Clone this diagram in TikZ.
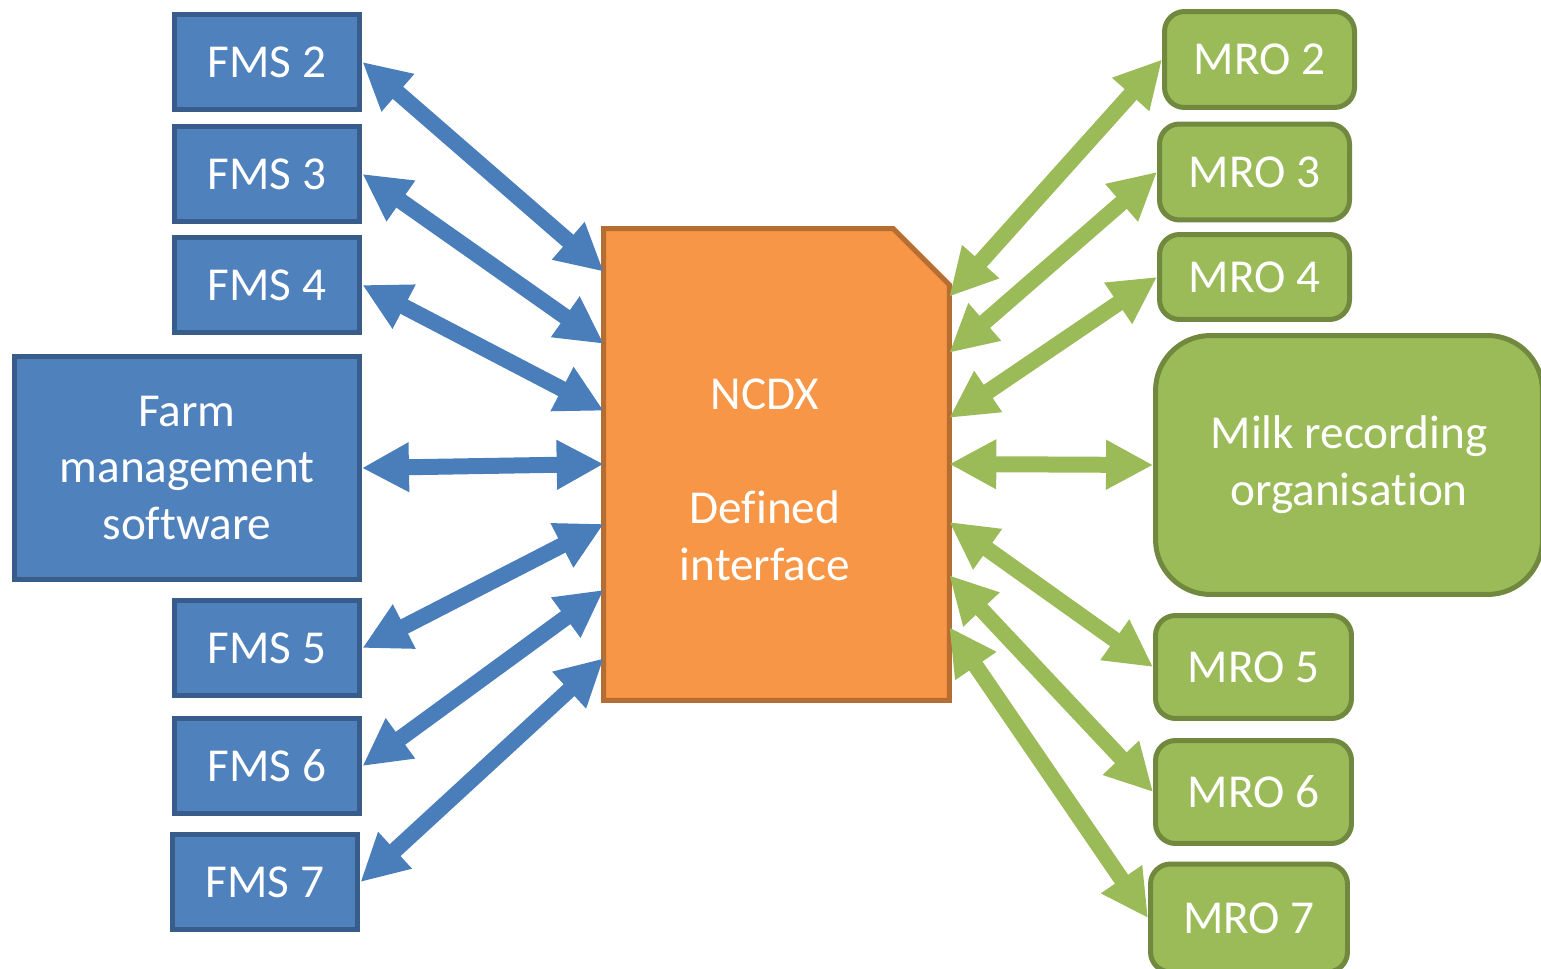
\documentclass[tikz,border=0pt]{standalone}
\usepackage{fontspec}
\setmainfont{Carlito}[Ligatures={NoCommon,NoContextual}]
\usetikzlibrary{arrows.meta,calc}
\definecolor{fmsfill}{HTML}{4F81BD}
\definecolor{fmsline}{HTML}{385D8A}
\definecolor{fmsarrowc}{HTML}{4A7EBB}
\definecolor{ncdxfill}{HTML}{F79646}
\definecolor{ncdxline}{HTML}{B66D31}
\definecolor{mrofill}{HTML}{9BBB59}
\definecolor{mroline}{HTML}{71893F}
\tikzset{
  box/.style={line width=1mm,text=white,align=center,
    font=\fontsize{26.9pt}{32.4pt}\selectfont},
  fms/.style={box,draw=fmsline,fill=fmsfill,minimum width=3.72cm,minimum height=1.92cm},
  mro/.style={box,draw=mroline,fill=mrofill,rounded corners=0.4cm,minimum width=3.8cm,minimum height=1.92cm},
  dblarrow/.style={line width=0.32cm,>={Triangle[width=9.4mm,length=9.4mm]},<->},
  fmsarrow/.style={dblarrow,draw=fmsarrowc},
  mroarrow/.style={dblarrow,draw=mrofill}
}
\begin{document}
\begin{tikzpicture}[x=0.02cm,y=-0.02cm]
    \useasboundingbox(0,0)rectangle(1541,969);
    \clip(0,0)rectangle(1541,969);
    % left side
    \node[fms](fms2)at(267,62){FMS 2};
    \node[fms](fms3)at(267,174){FMS 3};
    \node[fms](fms4)at(267,285){FMS 4};
    \node[fms,minimum width=6.9cm,minimum height=4.46cm](farm)at(187,468){Farm\\management\\software};
    \node[fms](fms5)at(267,648){FMS 5};
    \node[fms](fms6)at(267,766){FMS 6};
    \node[fms](fms7)at(265,882){FMS 7};
    % centre
    \node[minimum width=6.9cm,minimum height=9.42cm,inner sep=0pt](ncdx)at(776.5,464.5){};
    \draw[line width=1mm,draw=ncdxline,fill=ncdxfill](ncdx.south west)|-([xshift=-1.12cm]ncdx.north east)--([yshift=-1.12cm]ncdx.north east)--(ncdx.south east)--cycle;
    \node[box](ncdxtext)at(765,480){NCDX\\[32.4pt]Defined\\interface};
    % right side
    \node[mro](mro2)at(1259.5,59.5){MRO 2};
    \node[mro](mro3)at(1254.5,172){MRO 3};
    \node[mro,minimum height=1.7cm](mro4)at(1254.5,277){MRO 4};
    \node[mro,rounded corners=1.1cm,minimum width=7.74cm,minimum height=5.18cm](milk)at(1349,465){Milk recording\\organisation};
    \node[mro,minimum width=3.92cm,minimum height=2.06cm](mro5)at(1253.5,667){MRO 5};
    \node[mro,minimum width=3.92cm,minimum height=2.06cm](mro6)at(1253.5,792){MRO 6};
    \node[mro,minimum width=3.94cm,minimum height=2.16cm](mro7)at(1249,918){MRO 7};
    % arrows
    \foreach \n/\f in {2/0.091,3/0.244,4/0.386,5/0.626,6/0.766,7/0.911}
        \draw[fmsarrow](fms\n.east)--($(ncdx.north west)!\f!(ncdx.south west)$);
    \draw[fmsarrow](farm.east)--($(ncdx.north west)!0.499!(ncdx.south west)$);
    \foreach \n/\f in {2/0.144,3/0.263,4/0.401,5/0.622,6/0.735,7/0.845}
        \draw[mroarrow](mro\n.west)--($(ncdx.north east)!\f!(ncdx.south east)$);
    \draw[mroarrow](milk.west)--($(ncdx.north east)!0.499!(ncdx.south east)$);
\end{tikzpicture}
\end{document}
